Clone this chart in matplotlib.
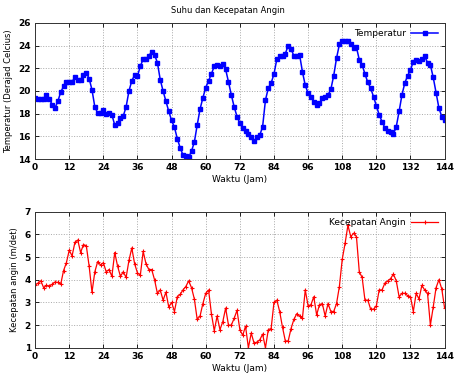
import matplotlib
matplotlib.use('Agg')
import matplotlib.pyplot as plt

jam = list(range(0, 145))

suhu = [19.35, 19.3, 19.25, 19.3, 19.65, 19.3, 18.8, 18.5, 19.1, 19.9,
        20.4, 20.8, 20.8, 20.8, 21.25, 21.0, 21.0, 21.4, 21.6, 21.1,
        20.1, 18.6, 18.05, 18.1, 18.35, 18.0, 18.1, 17.9, 17.0, 17.2,
        17.6, 17.8, 18.6, 20.0, 20.9, 21.4, 21.3, 22.2, 22.8, 22.85,
        23.1, 23.45, 23.2, 22.5, 21.0, 20.0, 19.1, 18.2, 17.4, 16.8,
        15.8, 15.0, 14.35, 14.3, 14.15, 14.7, 15.5, 17.0, 18.4, 19.4,
        20.3, 20.9, 21.5, 22.2, 22.3, 22.2, 22.35, 21.9, 20.8, 19.65,
        18.6, 17.75, 17.15, 16.7, 16.5, 16.2, 15.9, 15.6, 15.9, 16.1,
        16.85, 19.2, 20.25, 20.7, 21.5, 22.8, 23.05, 23.05, 23.3, 24.0,
        23.7, 23.1, 23.05, 23.2, 21.7, 20.5, 19.8, 19.5, 19.05, 18.75,
        18.9, 19.35, 19.5, 19.65, 20.15, 21.35, 22.9, 24.1, 24.45, 24.45,
        24.4, 24.15, 23.8, 23.85, 22.75, 22.3, 21.5, 20.75, 20.25, 19.5,
        18.7, 17.9, 17.3, 16.75, 16.45, 16.4, 16.2, 16.85, 18.2, 19.65,
        20.7, 21.35, 21.85, 22.6, 22.75, 22.65, 22.8, 23.05, 22.5, 22.3,
        21.2, 19.85, 18.5, 17.75, 17.45]

angin = [3.76, 3.85, 3.95, 3.65, 3.75, 3.72, 3.8, 3.9, 3.88, 3.8,
         4.4, 4.75, 5.3, 5.05, 5.65, 5.75, 5.2, 5.55, 5.5, 4.6,
         3.45, 4.35, 4.8, 4.65, 4.75, 4.35, 4.45, 4.15, 5.2, 4.6,
         4.15, 4.35, 4.1, 4.85, 5.4, 4.7, 4.3, 4.2, 5.25, 4.7,
         4.45, 4.45, 4.0, 3.4, 3.55, 3.1, 3.45, 2.8, 3.0, 2.6,
         3.25, 3.35, 3.55, 3.7, 3.95, 3.65, 3.15, 2.25, 2.4, 2.95,
         3.4, 3.55, 2.5, 1.75, 2.4, 1.8, 2.15, 2.75, 2.0, 2.0,
         2.3, 2.65, 1.8, 1.55, 1.95, 1.0, 1.65, 1.2, 1.25, 1.35,
         1.6, 1.0, 1.8, 1.85, 3.0, 3.1, 2.6, 1.9, 1.3, 1.3,
         1.85, 2.25, 2.5, 2.4, 2.3, 3.55, 2.85, 2.9, 3.25, 2.45,
         2.9, 2.95, 2.4, 2.95, 2.6, 2.6, 2.95, 3.7, 4.9, 5.6,
         6.4, 5.9, 6.05, 5.9, 4.35, 4.1, 3.1, 3.1, 2.7, 2.7,
         2.85, 3.55, 3.55, 3.85, 3.95, 4.05, 4.25, 3.95, 3.25, 3.4,
         3.4, 3.3, 3.25, 2.6, 3.4, 3.15, 3.75, 3.55, 3.4, 2.0,
         2.8, 3.65, 4.0, 3.6, 2.75]

xticks = list(range(0, 145, 12))

fig = plt.figure(figsize=(4.56, 3.76), dpi=100)
ax1 = fig.add_axes([0.077, 0.577, 0.898, 0.362])
ax2 = fig.add_axes([0.077, 0.075, 0.898, 0.362])

fs = 6.5

def style(ax, ylo, yhi, ylabel):
    ax.set_xlim(0, 144)
    ax.set_ylim(ylo, yhi)
    ax.set_xticks(xticks)
    ax.set_yticks(range(ylo, yhi + 1, 2 if yhi - ylo > 6 else 1))
    ax.grid(True, color='#a8a8a8', linestyle=':', linewidth=0.7)
    ax.tick_params(direction='in', length=3, width=0.6, labelsize=fs,
                   top=True, right=True, pad=3)
    for lab in ax.get_xticklabels() + ax.get_yticklabels():
        lab.set_fontweight('bold')
    for s in ax.spines.values():
        s.set_linewidth(0.7)
        s.set_color('#333333')
    ax.set_xlabel('Waktu (Jam)', fontsize=fs, labelpad=2)
    ax.set_ylabel(ylabel, fontsize=6, labelpad=4)

ax1.plot(jam, suhu, '-s', color='#0000ff', markersize=2.6, linewidth=1.1,
         label='Temperatur')
style(ax1, 14, 26, 'Temperatur (Derajad Celcius)')

ax2.plot(jam, angin, '-+', color='#ff0000', markersize=3, linewidth=0.9,
         markeredgewidth=0.8, label='Kecepatan Angin')
style(ax2, 1, 7, 'Kecepatan angin (m/det)')

for ax in (ax1, ax2):
    ax.legend(loc='upper right', frameon=False, markerfirst=False,
              fontsize=fs, handlelength=3, borderaxespad=0.3,
              handletextpad=0.6)

fig.text(0.5, 0.972, 'Suhu dan Kecepatan Angin', ha='center', va='center',
         fontsize=6)

fig.savefig('out.png', dpi=100, facecolor='white')
